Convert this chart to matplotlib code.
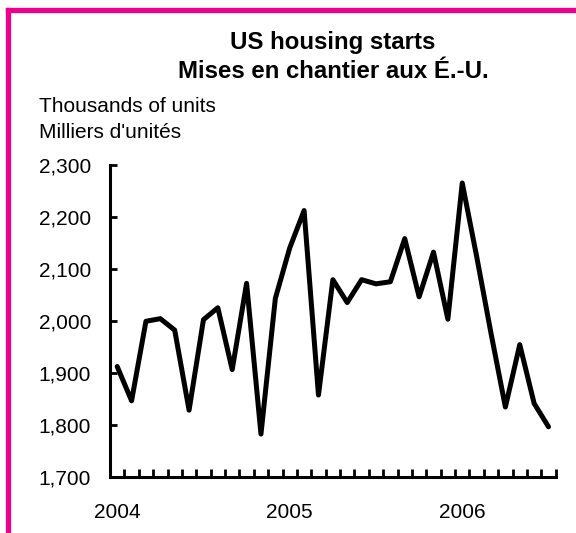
import matplotlib
matplotlib.use('Agg')
import matplotlib.pyplot as plt
from matplotlib.lines import Line2D

plt.rcParams['font.family'] = ['Liberation Sans', 'DejaVu Sans']

# monthly housing starts, Jan 2004 - Jul 2006 (thousands of units)
starts = [1912, 1846, 1999, 2004, 1982, 1828, 2002, 2025, 1906, 2072, 1782, 2043,
          2140, 2212, 1857, 2079, 2035, 2079, 2071, 2075, 2158, 2046, 2132, 2003,
          2265, 2124, 1976, 1834, 1954, 1841, 1796]
years = ['2004', '2005', '2006']
yticks = [1700, 1800, 1900, 2000, 2100, 2200, 2300]

pink = '#EC008C'

fig = plt.figure(figsize=(5.76, 5.33), dpi=100)
ax = fig.add_axes([110/576, 1 - 476.7/533, (555.7 - 110)/576, (476.7 - 164.8)/533])

x = list(range(len(starts)))
ax.plot(x, starts, color='black', lw=3.6, solid_joinstyle='round', solid_capstyle='round')

ax.set_xlim(-0.5, len(starts) - 0.5)
ax.set_ylim(yticks[0], yticks[-1])

ax.set_yticks(yticks)
ax.set_yticklabels([f'{v:,}' for v in yticks])

# month boundary ticks, year labels at january
ax.set_xticks([i + 0.5 for i in range(len(starts))])
ax.set_xticklabels([])
ax.set_xticks([0, 12, 24], minor=True)
ax.set_xticklabels(years, minor=True)

ax.tick_params(axis='y', direction='in', length=5, width=2, labelsize=15, pad=13.5)
ax.tick_params(axis='x', which='major', direction='in', length=5.5, width=2)
ax.tick_params(axis='x', which='minor', length=0, labelsize=15, pad=19)

for side in ['top', 'right']:
    ax.spines[side].set_visible(False)
for side in ['left', 'bottom']:
    ax.spines[side].set_linewidth(2.2)

fig.text(333/576, 1 - 42/533, 'US housing starts', ha='center', va='center',
         fontsize=17.3, fontweight='bold')
fig.text(333/576, 1 - 71.5/533, 'Mises en chantier aux É.-U.', ha='center', va='center',
         fontsize=17.3, fontweight='bold')
fig.text(39/576, 1 - 107/533, 'Thousands of units', ha='left', va='center', fontsize=15)
fig.text(39/576, 1 - 133/533, "Milliers d'unités", ha='left', va='center', fontsize=15)

# pink frame, left and top only
fig.add_artist(Line2D([7.5/576, 7.5/576], [0, 1 - 9.5/533], color=pink, lw=3.8,
                      transform=fig.transFigure, solid_capstyle='projecting'))
fig.add_artist(Line2D([7.5/576, 1], [1 - 9.5/533, 1 - 9.5/533], color=pink, lw=3.8,
                      transform=fig.transFigure, solid_capstyle='projecting'))

fig.savefig('out.png', dpi=100)
